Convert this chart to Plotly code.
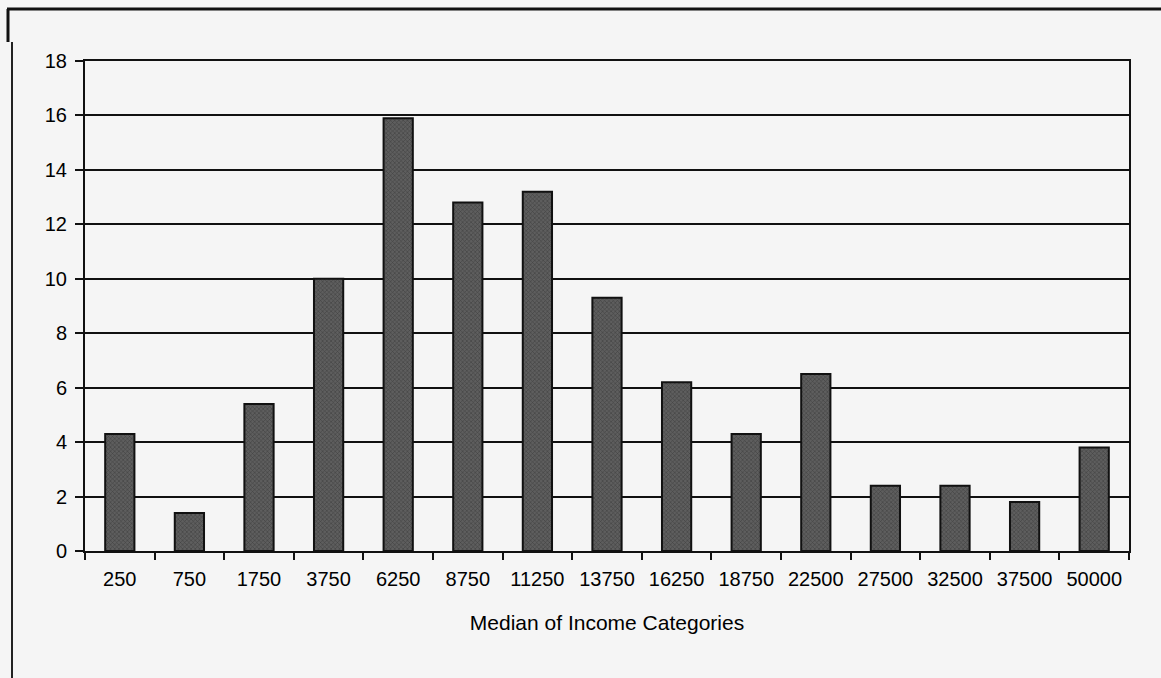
import plotly.graph_objects as go

# Income category medians and the share (%) of households in each
categories = ["250", "750", "1750", "3750", "6250", "8750", "11250", "13750",
              "16250", "18750", "22500", "27500", "32500", "37500", "50000"]
shares = [4.3, 1.4, 5.4, 10.0, 15.9, 12.8, 13.2, 9.3, 6.2, 4.3, 6.5, 2.4, 2.4, 1.8, 3.8]
y_ticks = [0, 2, 4, 6, 8, 10, 12, 14, 16, 18]

FONT = "Liberation Sans, Arial, sans-serif"

fig = go.Figure(
    go.Bar(
        x=categories,
        y=shares,
        marker=dict(
            color="#5e5e5e",
            line=dict(color="#111111", width=2),
            pattern=dict(shape="x", fgcolor="#222222", size=3, solidity=0.35),
        ),
        showlegend=False,
    )
)

fig.update_layout(
    width=1161,
    height=678,
    margin=dict(l=85, r=32, t=61, b=127),
    paper_bgcolor="#f5f5f5",
    plot_bgcolor="#f5f5f5",
    bargap=0.58,
    font=dict(family=FONT, color="#000000", size=20),
    xaxis=dict(
        type="category",
        showline=True, linecolor="#111111", linewidth=2, mirror=True,
        ticks="outside", tickson="boundaries", ticklen=7, tickwidth=2, tickcolor="#111111",
        ticklabelstandoff=9,
        showgrid=False,
        tickfont=dict(size=20),
        title=dict(text="Median of Income Categories", font=dict(size=21), standoff=26),
    ),
    yaxis=dict(
        range=[0, 18],
        tickvals=y_ticks,
        showline=True, linecolor="#111111", linewidth=2, mirror=True,
        ticks="outside", ticklen=8, tickwidth=2, tickcolor="#111111",
        ticklabelstandoff=4,
        showgrid=True, gridcolor="#111111", gridwidth=2,
        zeroline=False,
        tickfont=dict(size=20),
    ),
)

# Outer page frame lines
fig.add_shape(type="line", xref="paper", yref="paper",
              x0=(7 - 85) / 1044, x1=(1161 - 85) / 1044,
              y0=(551 - 9) / 490, y1=(551 - 9) / 490,
              line=dict(color="#111111", width=3))
fig.add_shape(type="line", xref="paper", yref="paper",
              x0=(8 - 85) / 1044, x1=(8 - 85) / 1044,
              y0=(551 - 9) / 490, y1=(551 - 42) / 490,
              line=dict(color="#111111", width=3))
fig.add_shape(type="line", xref="paper", yref="paper",
              x0=(12 - 85) / 1044, x1=(12 - 85) / 1044,
              y0=(551 - 42) / 490, y1=(551 - 678) / 490,
              line=dict(color="#222222", width=2))

fig.write_html("out.html")
